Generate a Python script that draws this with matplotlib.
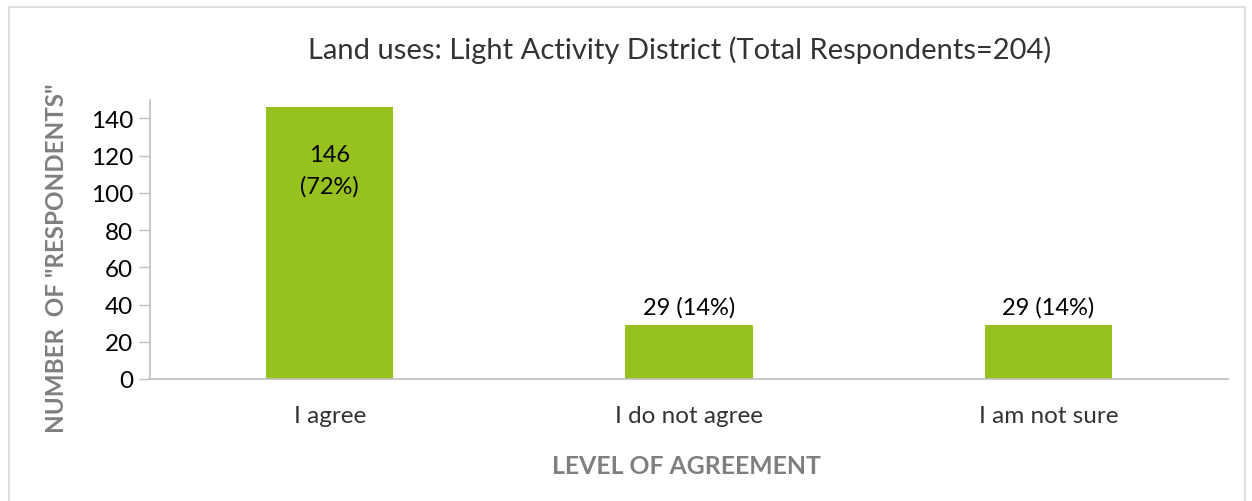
import matplotlib
matplotlib.use("Agg")
import matplotlib.pyplot as plt
from matplotlib.patches import Rectangle

categories = ["I agree", "I do not agree", "I am not sure"]
counts = [146, 29, 29]
labels = ["146\n(72%)", "29 (14%)", "29 (14%)"]
title = "Land uses: Light Activity District (Total Respondents=204)"
yticks = [0, 20, 40, 60, 80, 100, 120, 140]

plt.rcParams['font.family'] = ['Lato', 'DejaVu Sans']

W, H = 1252, 502
fig = plt.figure(figsize=(W / 100, H / 100), dpi=100)
ax = fig.add_axes([150 / W, 1 - 380 / H, (1228 - 150) / W, (380 - 100.7) / H])

green = "#97C11E"
x = list(range(len(categories)))
bars = ax.bar(x, counts, width=0.355, color=green, zorder=2)

ax.set_xlim(-0.5, len(categories) - 0.5)
ax.set_ylim(0, 150)
ax.set_yticks(yticks)
ax.set_xticks(x)
ax.set_xticklabels(categories, fontsize=17.5, color="#333333")
ax.tick_params(axis='x', length=0, pad=19)
ax.tick_params(axis='y', length=8, width=1, color="#BFBFBF", labelsize=17.5,
               labelcolor="#000000", pad=4)

for s in ["top", "right"]:
    ax.spines[s].set_visible(False)
for s in ["left", "bottom"]:
    ax.spines[s].set_color("#BFBFBF")
    ax.spines[s].set_linewidth(1.2)

# data labels
ax.text(x[0], counts[0] - 34, labels[0], ha='center', va='center', fontsize=17,
        color="#000000", linespacing=1.55)
for i in (1, 2):
    ax.text(x[i], counts[i] + 4, labels[i], ha='center', va='bottom',
            fontsize=17, color="#000000")

fig.text(680 / W, 1 - 50 / H, title, ha='center', va='center', fontsize=21,
         color="#333333")
fig.text(57 / W, 1 - 258 / H, 'NUMBER  OF "RESPONDENTS"', rotation=90,
         ha='center', va='center', fontsize=17.4, fontweight='bold',
         color="#7F7F7F")
fig.text(686 / W, 1 - 467 / H, "LEVEL OF AGREEMENT", ha='center',
         va='center', fontsize=17.8, fontweight='bold', color="#7F7F7F")

fig.patches.append(Rectangle((9 / W, -0.05), (1245 - 9) / W, 1.05 - 8 / H,
                             transform=fig.transFigure, fill=False,
                             edgecolor="#D9D9D9", linewidth=1.2))

fig.savefig("out.png", dpi=100)
